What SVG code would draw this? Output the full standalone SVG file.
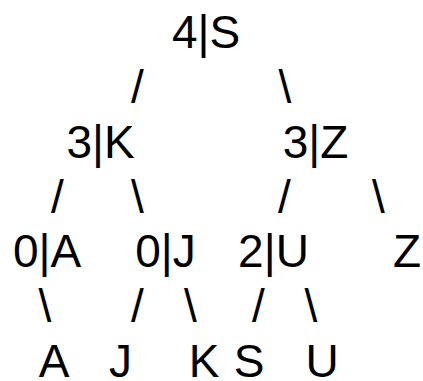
<svg xmlns="http://www.w3.org/2000/svg" width="423" height="381" viewBox="0 0 423 381">
<style>
text{font-family:"Liberation Sans",Arial,sans-serif;font-size:46px;fill:#000;text-anchor:middle}
</style>
<rect width="423" height="381" fill="#fff"/>
<g id="connectors">
<text x="137.5" y="102.8">/</text>
<text x="285" y="102.8">\</text>
<text x="57.5" y="212.5">/</text>
<text x="137.5" y="212.5">\</text>
<text x="284.5" y="212.5">/</text>
<text x="378.5" y="212.5">\</text>
<text x="45" y="322.2">\</text>
<text x="137.5" y="322.2">/</text>
<text x="190.5" y="322.2">\</text>
<text x="258.5" y="322.2">/</text>
<text x="311" y="322.2">\</text>
</g>
<g id="n-4S"><text x="206" y="48">4|S</text></g>
<g id="n-3K"><text x="100.5" y="157.7">3|K</text></g>
<g id="n-3Z"><text x="315.5" y="157.7">3|Z</text></g>
<g id="n-0A"><text x="47" y="267.3">0|A</text></g>
<g id="n-0J"><text x="165.5" y="267.3">0|J</text></g>
<g id="n-2U"><text x="273.5" y="267.3">2|U</text></g>
<g id="n-Z"><text x="407" y="267.3">Z</text></g>
<g id="n-A"><text x="54" y="377">A</text></g>
<g id="n-J"><text x="120.5" y="377">J</text></g>
<g id="n-K"><text x="204" y="377">K</text></g>
<g id="n-S"><text x="249" y="377">S</text></g>
<g id="n-U"><text x="322" y="377">U</text></g>
</svg>
